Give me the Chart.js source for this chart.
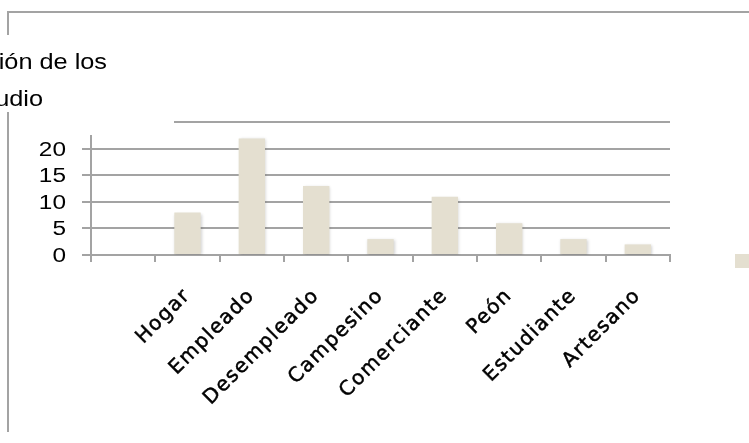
<!DOCTYPE html>
<html lang="es">
<head>
<meta charset="utf-8">
<title>Ocupación</title>
<script src="https://cdn.jsdelivr.net/npm/chart.js@4.4.0/dist/chart.umd.min.js"></script>
<style>
    html, body { margin: 0; padding: 0; background: #ffffff; }
    #chart { display: block; }
</style>
</head>
<body>
<canvas id="chart" width="749" height="443"></canvas>
<script>
// ocupación de los encuestados
const categories = ['', 'Hogar', 'Empleado', 'Desempleado', 'Campesino', 'Comerciante', 'Peón', 'Estudiante', 'Artesano'];
const counts = [null, 8, 22, 13, 3, 11, 6, 3, 2];
const yTickValues = [0, 5, 10, 15, 20];
const titleLines = ['ión de los', 'udio'];

const barColor = '#e4dfd0';
const lineColor = '#a3a3a3';
const textFont = '"Liberation Sans", Arial, sans-serif';


/**
 * envuelve drawLabels de una escala para dibujar con espaciado entre letras
 */
function spaceLabels(scale, spacing) {
    if (scale._spaced) {
        return;
    }
    let original = scale.drawLabels;
    scale.drawLabels = function (area) {
        this.ctx.save();
        this.ctx.letterSpacing = spacing;
        original.call(this, area);
        this.ctx.restore();
    };
    scale._spaced = true;
}

/**
 * texto ensanchado horizontalmente, alineado a la derecha en (x, y)
 */
function wideText(ctx, text, x, y, stretch, baseline) {
    ctx.save();
    ctx.translate(x, y);
    ctx.scale(stretch, 1);
    ctx.textAlign = 'right';
    ctx.textBaseline = baseline;
    ctx.fillText(text, 0, 0);
    ctx.restore();
}

// marco, titulo, etiquetas del eje y y cuadro de la leyenda
const framePlugin = {
    id: 'frame',
    afterLayout(chart) {
        spaceLabels(chart.scales.x, '1.5px');
    },
    beforeDatasetsDraw(chart) {
        let ctx = chart.ctx;
        ctx.save();
        ctx.shadowColor = 'rgba(0, 0, 0, 0.18)';
        ctx.shadowBlur = 3;
        ctx.shadowOffsetX = 1;
        ctx.shadowOffsetY = 1;
    },
    afterDatasetsDraw(chart) {
        chart.ctx.restore();
    },
    afterDraw(chart) {
        let ctx = chart.ctx;
        let area = chart.chartArea;
        let yScale = chart.scales.y;
        ctx.save();
        ctx.strokeStyle = lineColor;
        ctx.lineWidth = 2;
        ctx.beginPath();
        // borde exterior
        ctx.moveTo(749, 12);
        ctx.lineTo(8, 12);
        ctx.lineTo(8, 35);
        ctx.moveTo(8, 112);
        ctx.lineTo(8, 432);
        // linea sobre el area de trazado
        ctx.moveTo(174, 122);
        ctx.lineTo(area.right, 122);
        ctx.stroke();

        ctx.fillStyle = '#000000';

        // titulo
        ctx.font = '22px ' + textFont;
        wideText(ctx, titleLines[0], 107, 69, 1.15, 'alphabetic');
        wideText(ctx, titleLines[1], 43, 106, 1.15, 'alphabetic');

        // etiquetas del eje y
        ctx.font = '20px ' + textFont;
        for (let i = 0; i < yTickValues.length; i++) {
            let v = yTickValues[i];
            wideText(ctx, String(v), 66, yScale.getPixelForValue(v) + 1, 1.22, 'middle');
        }

        // cuadro de la leyenda
        ctx.fillStyle = chart.data.datasets[0].backgroundColor;
        ctx.fillRect(735, 254, 14, 14);
        ctx.restore();
    }
};

let ctx = document.getElementById('chart').getContext('2d');
let chart = new Chart(ctx, {
    type: 'bar',
    data: {
        labels: categories,
        datasets: [{
            label: 'Ocupación',
            data: counts,
            backgroundColor: barColor,
            borderWidth: 0,
            barPercentage: 0.41,
            categoryPercentage: 1.0,
        }]
    },
    options: {
        responsive: false,
        animation: false,
        devicePixelRatio: 1,
        layout: {
            padding: { left: 0, right: 79, top: 136, bottom: 0 }
        },
        plugins: {
            legend: { display: false },
            title: { display: false },
            tooltip: { enabled: false }
        },
        scales: {
            x: {
                grid: {
                    offset: true,
                    drawOnChartArea: false,
                    color: lineColor,
                    lineWidth: 2,
                    tickLength: 7,
                },
                border: { color: lineColor, width: 2 },
                ticks: {
                    autoSkip: false,
                    minRotation: 45,
                    maxRotation: 45,
                    padding: 22,
                    color: '#000000',
                    textStrokeColor: '#000000',
                    textStrokeWidth: 0.5,
                    font: { family: '"DejaVu Sans", sans-serif', size: 20 },
                },
                afterFit(scale) {
                    scale.height = 188;
                }
            },
            y: {
                min: 0,
                max: 22.45,
                grid: {
                    color: lineColor,
                    lineWidth: 2,
                    tickLength: 9,
                },
                border: { color: lineColor, width: 2 },
                ticks: {
                    display: false,
                },
                afterBuildTicks(scale) {
                    scale.ticks = yTickValues.map(v => ({ value: v }));
                },
                afterFit(scale) {
                    scale.width = 91;
                }
            }
        }
    },
    plugins: [framePlugin]
});
</script>
</body>
</html>
